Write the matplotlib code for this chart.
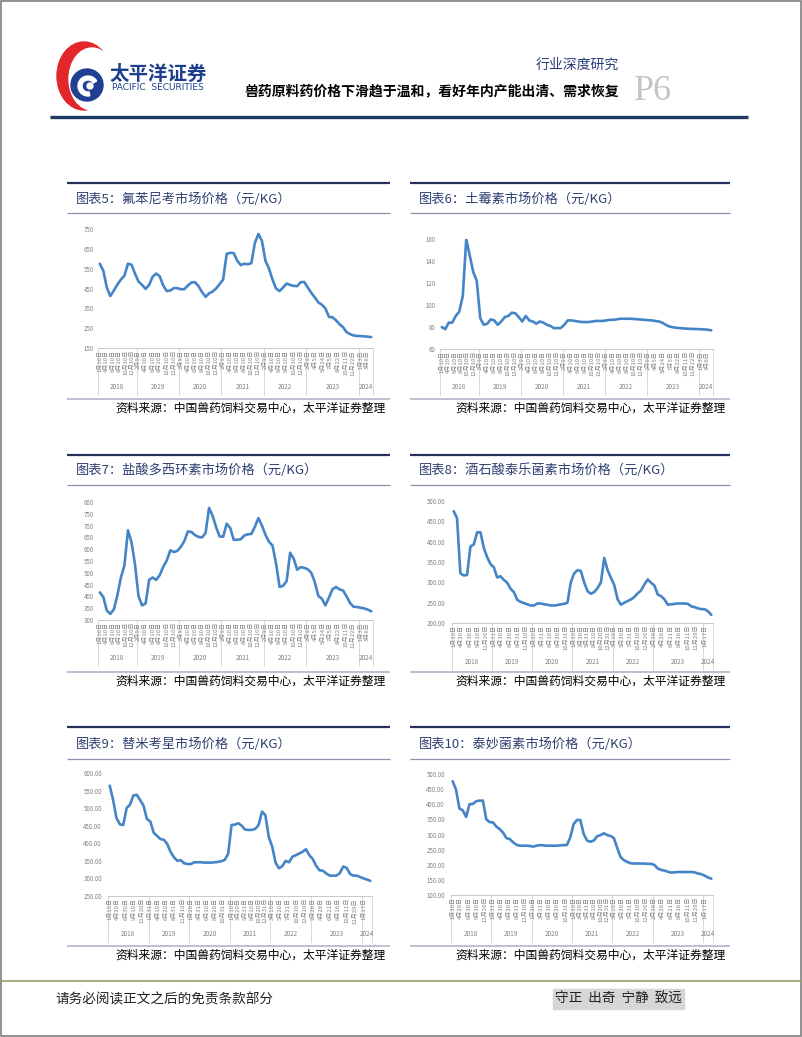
import matplotlib
matplotlib.use('Agg')
import matplotlib.pyplot as plt
from matplotlib.patches import Ellipse, Circle, Rectangle, Wedge

plt.rcParams['font.family'] = ['Noto Sans CJK SC', 'DejaVu Sans']

W, H = 802, 1037

# ---------------- data ----------------
YEARS = ['2018', '2019', '2020', '2021', '2022', '2023', '2024']
COUNTS_A = [11, 12, 12, 12, 12, 15, 4]
COUNTS_B = [12, 12, 12, 12, 12, 15, 3]

TICKS_A = [
    ['1月10日', '4月10日', '6月10日', '8月10日', '10月10日', '12月10日'],
    ['2月9日', '4月10日', '6月10日', '8月10日', '10月10日', '12月10日'],
    ['2月9日', '4月10日', '6月10日', '8月10日', '10月10日', '12月10日'],
    ['2月9日', '4月10日', '6月10日', '8月10日', '10月10日', '12月10日'],
    ['2月9日', '4月10日', '6月10日', '8月10日', '10月10日', '12月10日'],
    ['2月9日', '4月5日', '5月24日', '7月5日', '8月22日', '10月11日', '11月22日'],
    ['1月3日', '3月6日'],
]
TICKS_B = [
    ['1月10日', '4月20日', '6月30日', '9月10日', '11月20日'],
    ['1月31日', '4月10日', '6月20日', '8月31日', '11月10日'],
    ['1月20日', '3月31日', '6月10日', '8月20日', '10月31日'],
    ['1月10日', '3月20日', '5月31日', '8月10日', '10月20日', '12月31日'],
    ['3月10日', '5月20日', '7月31日', '10月10日', '12月20日'],
    ['2月28日', '4月26日', '6月21日', '8月16日', '10月11日', '11月29日'],
    ['1月17日'],
]

florfenicol = [575, 540, 455, 412, 440, 470, 495, 515, 575, 570,
               525, 485, 468, 448, 468, 510, 525, 512, 465, 437,
               440, 452, 452, 446, 447, 465, 480, 482, 462, 432,
               408, 425, 435, 450, 472, 495, 625, 630, 628, 590,
               568, 575, 572, 578, 680, 725, 690, 590, 550, 495,
               450, 437, 455, 475, 468, 463, 462, 482, 483, 455,
               428, 405, 380, 368, 350, 307, 305, 290, 270, 255,
               230, 220, 213, 211, 210, 209, 207, 205]

oxytetracycline = [80, 78, 84, 84, 90, 94, 108, 160, 145, 130,
                   122, 88, 82, 83, 87, 86, 82, 85, 89, 90,
                   93, 92.5, 89, 85, 90, 86, 85, 83, 85, 84,
                   82, 81, 79, 79, 79, 82, 86, 86, 85.5, 85,
                   84.5, 84.5, 84.5, 85, 85.5, 85.5, 85.5, 86, 86.5, 86.5,
                   87, 87.5, 87.5, 87.5, 87.5, 87.3, 87, 86.8, 86.5, 86.2,
                   86, 85.5, 85, 84, 82, 80.5, 79.8, 79.3, 79, 78.7,
                   78.5, 78.3, 78.2, 78.1, 78, 77.8, 77.5, 77]

doxycycline = [417, 398, 340, 326, 345, 405, 480, 532, 680, 630,
               535, 400, 362, 370, 470, 480, 470, 490, 525, 552,
               595, 588, 593, 610, 635, 675, 673, 660, 652, 650,
               668, 775, 742, 693, 654, 653, 708, 690, 640, 640,
               642, 658, 663, 665, 695, 732, 700, 661, 632, 615,
               540, 440, 445, 465, 585, 560, 513, 524, 521, 515,
               500, 460, 402, 390, 362, 395, 430, 440, 430, 425,
               400, 372, 356, 355, 352, 349, 344, 337]

tylosin = [475, 458, 322, 317, 318, 388, 393, 423, 423, 385,
           362, 345, 337, 312, 315, 306, 299, 284, 276, 257,
           252, 249, 246, 243, 243, 248, 248, 246, 245, 243,
           243, 244, 246, 247, 250, 300, 322, 330, 328, 300,
           278, 272, 276, 286, 300, 360, 330, 311, 293, 258,
           245, 250, 254, 258, 264, 273, 280, 295, 307, 299,
           292, 270, 266, 258, 245, 246, 247, 248, 248, 248,
           247, 241, 239, 236, 234, 234, 229, 220]

tilmicosin = [564, 524, 472, 454, 452, 500, 510, 536, 538, 523,
              507, 469, 462, 430, 421, 412, 410, 398, 375, 360,
              350, 352, 343, 341, 341, 346, 346, 346, 345, 345,
              345, 346, 347, 349, 353, 370, 452, 453, 457, 450,
              439, 438, 438, 441, 452, 490, 480, 418, 391, 345,
              329, 335, 350, 346, 362, 366, 371, 376, 383, 366,
              355, 336, 323, 322, 314, 308, 308, 308, 315, 334,
              330, 313, 308, 308, 304, 300, 297, 293]

tiamulin = [476, 448, 386, 380, 358, 400, 401, 410, 412, 412,
            350, 341, 340, 326, 318, 306, 288, 285, 274, 266,
            263, 263, 263, 262, 260, 263, 265, 264, 263, 263,
            263, 263, 264, 265, 265, 290, 334, 348, 348, 302,
            280, 276, 280, 294, 298, 304, 298, 295, 288, 255,
            225, 215, 209, 205, 204, 204, 204, 204, 203, 203,
            200, 188, 183, 181, 177, 174, 175, 176, 176, 176,
            176, 176, 175, 171, 169, 164, 158, 154]

TITLES = ['图表5：氟苯尼考市场价格（元/KG）', '图表6：土霉素市场价格（元/KG）',
          '图表7：盐酸多西环素市场价格（元/KG）', '图表8：酒石酸泰乐菌素市场价格（元/KG）',
          '图表9：替米考星市场价格（元/KG）', '图表10：泰妙菌素市场价格（元/KG）']
SOURCE = '资料来源：中国兽药饲料交易中心，太平洋证券整理'

YT5 = [150, 250, 350, 450, 550, 650, 750]
YT6 = [60, 80, 100, 120, 140, 160]
YT7 = [300, 350, 400, 450, 500, 550, 600, 650, 700, 750, 800]
YT8 = [200, 250, 300, 350, 400, 450, 500]
YT9 = [250, 300, 350, 400, 450, 500, 550, 600]
YT10 = [100, 150, 200, 250, 300, 350, 400, 450, 500]

# ---------------- layout ----------------
fig = plt.figure(figsize=(W / 100, H / 100), dpi=100)
bg = fig.add_axes([0, 0, 1, 1])
bg.set_xlim(0, W)
bg.set_ylim(H, 0)
bg.axis('off')

# page border
bg.add_patch(Rectangle((0.6, 0.6), W - 1.8, H - 1.8, fill=False, ec='#7f7f7f', lw=1.2))

# logo
bg.add_patch(Ellipse((84, 76), 54, 68, color='#e2262c', zorder=2))
bg.add_patch(Ellipse((92, 79), 46, 62, color='white', zorder=3))
bg.add_patch(Circle((87, 85), 16, color='#1f3f91', zorder=4))
bg.add_patch(Wedge((88, 86), 10, 80, 330, width=4, color='white', zorder=5))
bg.add_patch(Circle((90, 86), 3, color='white', zorder=5))

bg.text(110, 74, '太平洋证券', fontsize=14, fontweight='bold', color='#1d3e8e',
        ha='left', va='center')
bg.text(112, 88, 'PACIFIC  SECURITIES', fontsize=6.5, color='#1d3e8e',
        ha='left', va='center', family='DejaVu Sans')
bg.text(619, 65, '行业深度研究', fontsize=10, color='#2a3d7c', ha='right', va='center')
bg.text(619, 91, '兽药原料药价格下滑趋于温和，看好年内产能出清、需求恢复', fontsize=10,
        fontweight='bold', color='black', ha='right', va='center')
bg.text(634, 92, 'P6', fontsize=26, color='#c4c4c4', family='Liberation Serif',
        ha='left', va='center')
bg.plot([50, 748], [117, 117], color='#1f3864', lw=2.4, solid_capstyle='butt')

# footer
bg.plot([1, W - 1], [981, 981], color='#9c9c6a', lw=1.2)
bg.text(55, 999, '请务必阅读正文之后的免责条款部分', fontsize=9.8, color='#222222',
        ha='left', va='center')
bg.add_patch(Rectangle((553, 989), 131, 20, color='#d6d6d6', zorder=1))
bg.text(555, 999, '守正  出奇  宁静  致远', fontsize=9.8, color='#222222',
        ha='left', va='center', zorder=2)

ROW_TOP = [183, 455, 727]
ROW_TITLE = [199, 470, 744]
ROW_SUB = [213, 485, 759]
ROW_SRC_LINE = [399, 672, 946]
ROW_SRC = [408, 681, 955]
PANEL_X = [(67, 390), (410, 730)]

charts = [
    dict(data=florfenicol, counts=COUNTS_A, ticks=TICKS_A, yt=YT5, fmt='{:.0f}',
         box=(98, 229, 373, 348), ylab=387, pad=2.9),
    dict(data=oxytetracycline, counts=COUNTS_A, ticks=TICKS_A, yt=YT6, fmt='{:.0f}',
         box=(440, 239, 713, 349), ylab=387, pad=2.9),
    dict(data=doxycycline, counts=COUNTS_A, ticks=TICKS_A, yt=YT7, fmt='{:.0f}',
         box=(98, 502, 373, 620), ylab=658, pad=2.9),
    dict(data=tylosin, counts=COUNTS_B, ticks=TICKS_B, yt=YT8, fmt='{:.2f}',
         box=(452, 501, 713, 623), ylab=662, pad=4.8),
    dict(data=tilmicosin, counts=COUNTS_B, ticks=TICKS_B, yt=YT9, fmt='{:.2f}',
         box=(108, 773, 372, 896), ylab=934, pad=4.3),
    dict(data=tiamulin, counts=COUNTS_B, ticks=TICKS_B, yt=YT10, fmt='{:.2f}',
         box=(451, 774, 713, 895), ylab=934, pad=4.3),
]

GRAY = '#808080'
for k, c in enumerate(charts):
    row, col = k // 2, k % 2
    px0, px1 = PANEL_X[col]
    # panel decorations
    bg.plot([px0, px1], [ROW_TOP[row]] * 2, color='#26305c', lw=1.6, solid_capstyle='butt')
    bg.plot([px0, px1], [ROW_SUB[row]] * 2, color='#8a93b4', lw=0.9, solid_capstyle='butt')
    bg.plot([px0, px1], [ROW_SRC_LINE[row]] * 2, color='#a9afc8', lw=1.1, solid_capstyle='butt')
    bg.text(px0 + 9, ROW_TITLE[row], TITLES[k], fontsize=9.5, color='#2f3f73',
            ha='left', va='center')
    bg.text(px1 - 4, ROW_SRC[row], SOURCE, fontsize=8.5, color='black',
            ha='right', va='center')

    x0, y0, x1, y1 = c['box']
    ax = fig.add_axes([x0 / W, 1 - y1 / H, (x1 - x0) / W, (y1 - y0) / H])
    vals = c['data']
    n = len(vals)
    ax.plot(range(n), vals, color='#4584c6', lw=1.9, solid_joinstyle='round',
            solid_capstyle='round')
    ax.set_xlim(-0.5, n - 0.5)
    ax.set_ylim(c['yt'][0], c['yt'][-1])
    ax.set_yticks(c['yt'])
    ax.set_yticklabels([c['fmt'].format(v) for v in c['yt']])
    ax.tick_params(axis='y', length=0, labelsize=4.4, labelcolor=GRAY, pad=c['pad'])
    ax.set_xticks([])
    for s in ['top', 'right', 'left']:
        ax.spines[s].set_visible(False)
    ax.spines['bottom'].set_color('#c8c8c8')
    ax.spines['bottom'].set_linewidth(0.7)
    ax.patch.set_alpha(0)

    def px(i, x0=x0, x1=x1, n=n):
        return x0 + (i + 0.5) * (x1 - x0) / n

    start = 0
    bounds = [start]
    for yi, (cnt, labs) in enumerate(zip(c['counts'], c['ticks'])):
        m = len(labs)
        for j, lab in enumerate(labs):
            pos = start + j * cnt / m
            bg.text(px(pos), y1 + 2, lab, rotation=90, ha='center', va='top',
                    fontsize=4.3, color=GRAY)
        bg.text((px(start - 0.5) + px(start + cnt - 0.5)) / 2, c['ylab'], YEARS[yi],
                fontsize=4.6, color=GRAY, ha='center', va='center')
        start += cnt
        bounds.append(start)
    for b in bounds:
        xb = px(b - 0.5)
        bg.plot([xb, xb], [y1, c['ylab'] + 8], color='#d2d2d2', lw=0.6)

fig.savefig('out.png', dpi=100)
